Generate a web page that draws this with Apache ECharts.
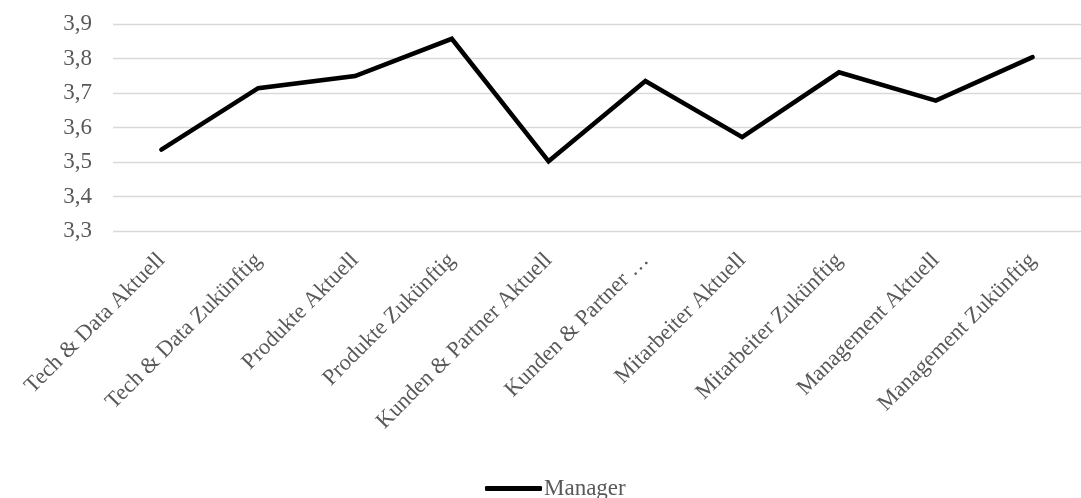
<!DOCTYPE html>
<html>
<head>
<meta charset="utf-8">
<script src="https://cdn.jsdelivr.net/npm/echarts@6/dist/echarts.min.js"></script>
<style>
  html, body { margin: 0; padding: 0; background: #ffffff; }
  #chart { width: 1081px; height: 498px; }
</style>
</head>
<body>
<div id="chart"></div>
<script>
// Categories (full names) and the tick labels shown under the axis
const categories = [
  'Tech & Data Aktuell', 'Tech & Data Zukünftig',
  'Produkte Aktuell', 'Produkte Zukünftig',
  'Kunden & Partner Aktuell', 'Kunden & Partner Zukünftig',
  'Mitarbeiter Aktuell', 'Mitarbeiter Zukünftig',
  'Management Aktuell', 'Management Zukünftig'
];
const tickLabels = [
  'Tech & Data Aktuell', 'Tech & Data Zukünftig',
  'Produkte Aktuell', 'Produkte Zukünftig',
  'Kunden & Partner Aktuell', 'Kunden & Partner …',
  'Mitarbeiter Aktuell', 'Mitarbeiter Zukünftig',
  'Management Aktuell', 'Management Zukünftig'
];
const seriesName = 'Manager';
const managerValues = [3.536, 3.714, 3.749, 3.857, 3.502, 3.735, 3.572, 3.760, 3.678, 3.804];

const yMin = 3.3, yMax = 3.9, yStep = 0.1;

const textColor = '#595959';
const fontFamily = '"Liberation Serif", "Times New Roman", serif';

const chart = echarts.init(document.getElementById('chart'), null, { renderer: 'canvas' });

chart.setOption({
  animation: false,
  backgroundColor: '#ffffff',
  grid: { left: 113, top: 24, width: 971, height: 207, containLabel: false },
  xAxis: {
    type: 'category',
    data: categories,
    boundaryGap: true,
    axisLine: { show: false },
    axisTick: { show: false },
    splitLine: { show: false },
    axisLabel: {
      interval: 0,
      rotate: 45,
      margin: 26,
      color: textColor,
      fontFamily: fontFamily,
      fontSize: 22.5,
      formatter: (v, i) => tickLabels[i]
    }
  },
  yAxis: {
    type: 'value',
    min: yMin,
    max: yMax,
    interval: yStep,
    axisLine: { show: false },
    axisTick: { show: false },
    splitLine: { show: true, lineStyle: { color: '#d9d9d9', width: 1.3 } },
    axisLabel: {
      margin: 21,
      color: textColor,
      fontFamily: fontFamily,
      fontSize: 23,
      formatter: v => v.toFixed(1).replace('.', ',')
    }
  },
  legend: {
    show: true,
    left: 480,
    top: 472,
    itemWidth: 57,
    itemHeight: 5,
    itemGap: 10,
    icon: 'roundRect',
    textStyle: { color: textColor, fontFamily: fontFamily, fontSize: 23, padding: [0, 0, 0, -3] },
    data: [seriesName]
  },
  series: [{
    name: seriesName,
    type: 'line',
    data: managerValues,
    symbol: 'none',
    smooth: false,
    itemStyle: { color: '#000000' },
    lineStyle: { color: '#000000', width: 4.6, cap: 'round', join: 'miter' }
  }]
});
</script>
</body>
</html>
